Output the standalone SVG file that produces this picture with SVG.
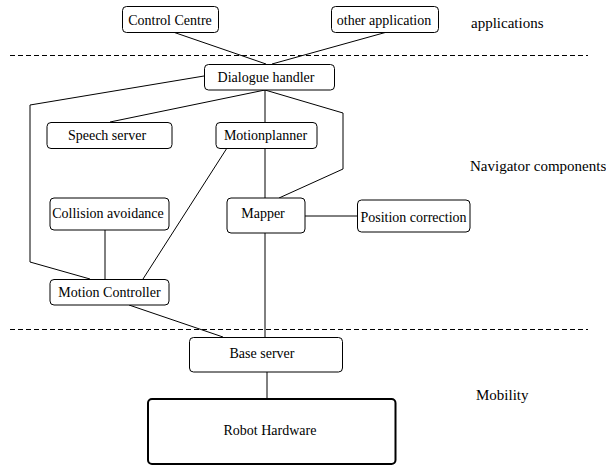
<svg xmlns="http://www.w3.org/2000/svg" width="606" height="465" viewBox="0 0 606 465">
<style>
.box{fill:#fff;stroke:#000;stroke-width:1}
.hw{fill:#fff;stroke:#000;stroke-width:2}
text{font-family:'Liberation Serif','DejaVu Serif','Times New Roman',Times,serif;fill:#000}
.t{font-size:14px;text-anchor:middle}
.lbl{font-size:15px}
.c{fill:none;stroke:#000;stroke-width:1}
.d{fill:none;stroke:#000;stroke-width:1;stroke-dasharray:5,3}
</style>
<rect width="606" height="465" fill="#fff"/>
<g id="separators">
<line class="d" x1="10" y1="55.5" x2="588" y2="55.5"/>
<line class="d" x1="10" y1="329.5" x2="588" y2="329.5"/>
</g>
<g id="connectors">
<line class="c" x1="173" y1="32" x2="266" y2="64"/>
<line class="c" x1="387" y1="32" x2="272" y2="64"/>
<polyline class="c" points="204,76 30,105 30,262 90,279"/>
<line class="c" x1="265" y1="90" x2="110" y2="122"/>
<line class="c" x1="265" y1="90" x2="265" y2="122"/>
<polyline class="c" points="265,90 343,113 343,169 279,198"/>
<line class="c" x1="265" y1="148" x2="265" y2="198"/>
<line class="c" x1="227" y1="148" x2="143" y2="279"/>
<line class="c" x1="105" y1="230" x2="105" y2="279"/>
<line class="c" x1="305" y1="216" x2="357" y2="216"/>
<line class="c" x1="265" y1="233" x2="265" y2="337"/>
<line class="c" x1="129" y1="305" x2="223" y2="337"/>
<line class="c" x1="267" y1="372" x2="267" y2="398"/>
</g>
<g id="control-centre">
<rect class="box" x="122.5" y="6.5" width="96" height="26" rx="4"/>
<text class="t" x="170" y="25" font-family="Liberation Serif, serif">Control Centre</text>
</g>
<g id="other-application">
<rect class="box" x="331.5" y="6.5" width="107" height="26" rx="4"/>
<text class="t" x="384" y="25">other application</text>
</g>
<g id="dialogue-handler">
<rect class="box" x="204.5" y="64.5" width="130" height="25.5" rx="4"/>
<text class="t" x="266" y="82">Dialogue handler</text>
</g>
<g id="speech-server">
<rect class="box" x="47" y="122.5" width="125" height="26" rx="4"/>
<text class="t" x="107" y="140">Speech server</text>
</g>
<g id="motionplanner">
<rect class="box" x="216" y="122.5" width="101" height="26" rx="4"/>
<text class="t" x="265.5" y="140">Motionplanner</text>
</g>
<g id="collision-avoidance">
<rect class="box" x="50" y="198" width="119" height="32" rx="4"/>
<text class="t" x="108" y="218">Collision avoidance</text>
</g>
<g id="mapper">
<rect class="box" x="227" y="198" width="78" height="35" rx="4"/>
<text class="t" x="263" y="218">Mapper</text>
</g>
<g id="position-correction">
<rect class="box" x="357.5" y="200" width="112.5" height="32" rx="4"/>
<text class="t" x="413.5" y="221.5">Position correction</text>
</g>
<g id="motion-controller">
<rect class="box" x="50" y="279.5" width="119" height="25.5" rx="4"/>
<text class="t" x="109.5" y="296.5">Motion Controller</text>
</g>
<g id="base-server">
<rect class="box" x="189.5" y="337.5" width="153" height="34.5" rx="4"/>
<text class="t" x="262" y="357.5">Base server</text>
</g>
<g id="robot-hardware">
<rect class="hw" x="148" y="399" width="247.5" height="65" rx="4"/>
<text class="t" x="270" y="434.5">Robot Hardware</text>
</g>
<g id="labels">
<text class="lbl" x="471" y="27.5">applications</text>
<text class="lbl" x="470" y="171">Navigator components</text>
<text class="lbl" x="476" y="400">Mobility</text>
</g>
</svg>
